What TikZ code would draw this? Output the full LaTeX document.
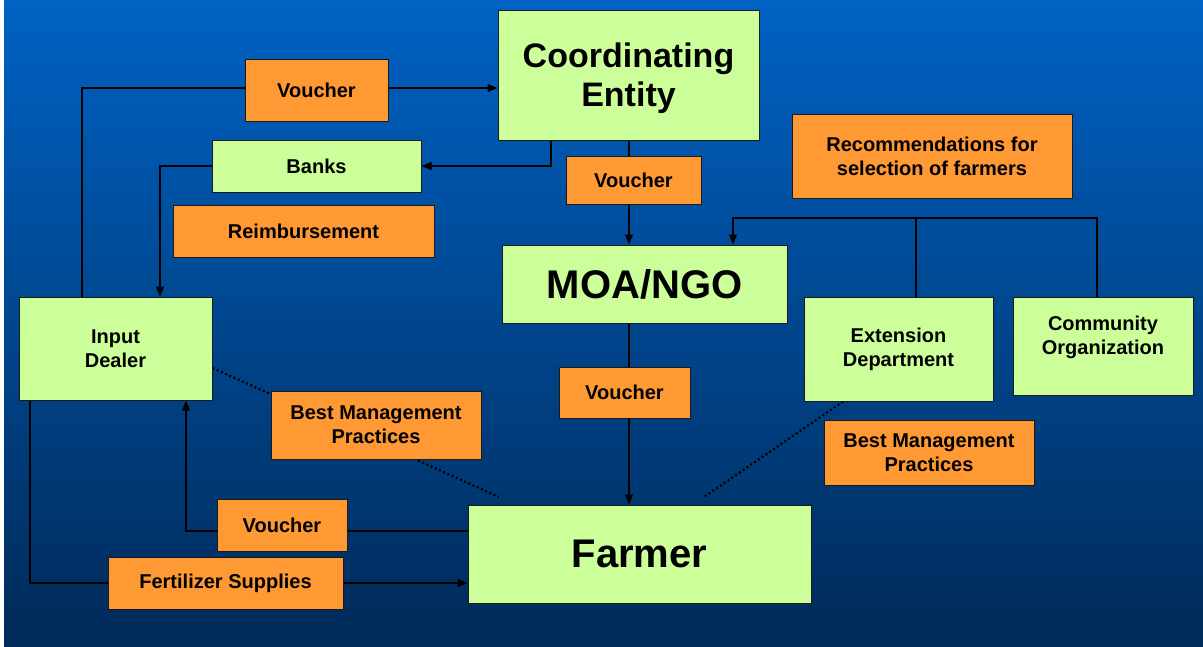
\documentclass[tikz,border=0pt]{standalone}
\usepackage{fontspec}
\setmainfont{Liberation Sans}
\usetikzlibrary{arrows.meta}
\pgfdeclarelayer{backdrop}
\pgfdeclarelayer{wires}
\pgfsetlayers{backdrop,wires,main}
\definecolor{bgtop}{RGB}{0,98,196}
\definecolor{bgbot}{RGB}{0,42,88}
\definecolor{leaf}{RGB}{204,255,153}
\definecolor{amber}{RGB}{255,153,51}
\definecolor{rim}{RGB}{26,26,26}
\tikzset{
  box/.style={rectangle, draw=rim, line width=1pt, inner sep=0pt, align=center,
    text=black, font=\bfseries\fontsize{20}{24}\selectfont},
  greenbox/.style={box, fill=leaf},
  orangebox/.style={box, fill=amber},
  bigtext/.style args={#1/#2}{font=\bfseries\fontsize{#1}{#2}\selectfont},
  wire/.style={draw=black, line width=1.2pt},
  arr/.style={wire, -{Triangle[length=10pt,width=8pt]}},
  dots/.style={draw=black, line width=2.2pt, dash pattern=on 2pt off 2.6pt},
}
\begin{document}
\begin{tikzpicture}[x=1pt,y=-1pt]
\useasboundingbox (0,0) rectangle (1203,646);
\begin{pgfonlayer}{backdrop}
  \fill[white] (0,0) rectangle (1203,646);
  \shade[top color=bgtop, bottom color=bgbot] (4,0) rectangle (1203,646);
\end{pgfonlayer}

% main actors
\node[greenbox, minimum width=261pt, minimum height=130pt, bigtext=34/39, text depth=-3pt] (ce) at (628.5,75) {Coordinating\\Entity};
\node[greenbox, minimum width=285pt, minimum height=78pt, bigtext=40/46] (moa) at (644.5,284) {MOA/NGO};
\node[greenbox, minimum width=343pt, minimum height=98pt, bigtext=40/46] (farmer) at (639.5,554) {Farmer};
\node[greenbox, minimum width=209pt, minimum height=52pt] (banks) at (316.5,166) {Banks};
\node[greenbox, minimum width=193pt, minimum height=103pt] (input) at (115.5,348.5) {Input\\Dealer};
\node[greenbox, minimum width=189pt, minimum height=104pt] (ext) at (898.5,349) {Extension\\Department};
\node[greenbox, minimum width=180pt, minimum height=98pt, text depth=22pt] (com) at (1103,346) {Community\\Organization};

% flow labels
\node[orangebox, minimum width=143pt, minimum height=62pt] (v1) at (316.5,90) {Voucher};
\node[orangebox, minimum width=261pt, minimum height=52pt] (reimb) at (303.5,231) {Reimbursement};
\node[orangebox, minimum width=135pt, minimum height=48pt] (v2) at (633.5,180) {Voucher};
\node[orangebox, minimum width=280pt, minimum height=84pt] (rec) at (932,156) {Recommendations for\\selection of farmers};
\node[orangebox, minimum width=131pt, minimum height=51pt] (v3) at (624.5,392.5) {Voucher};
\node[orangebox, minimum width=210pt, minimum height=68pt] (bmp1) at (376,425) {Best Management\\Practices};
\node[orangebox, minimum width=210pt, minimum height=65pt] (bmp2) at (929,452.5) {Best Management\\Practices};
\node[orangebox, minimum width=130pt, minimum height=52pt] (v4) at (282,525) {Voucher};
\node[orangebox, minimum width=235pt, minimum height=52pt] (fert) at (225.5,583) {Fertilizer Supplies};

% junctions and loose ends
\coordinate (join) at (733,218);
\coordinate (tap) at (916,218);
\coordinate (bmpA) at (499,497);
\coordinate (bmpB) at (704,497);

\begin{pgfonlayer}{wires}
  \draw[arr] (input.north -| 82,0) |- (ce.west |- 0,88);
  \draw[arr] (ce.south -| 551,0) |- (banks.east);
  \draw[arr] (banks.west) -| (input.north -| 160,0);
  \draw[arr] (ce.south -| 629,0) -- (moa.north -| 629,0);
  \draw[arr] (com.north -| 1097,0) |- (join) -- (moa.north -| join);
  \draw[wire] (ext.north -| tap) -- (tap);
  \draw[arr] (moa.south -| 629,0) -- (farmer.north -| 629,0);
  \draw[arr] (farmer.west |- 0,531) -| (input.south -| 186,0);
  \draw[arr] (input.south -| 30,0) |- (farmer.west |- 0,583);
  \draw[dots] (input.east |- 0,368) -- (bmpA);
  \draw[dots] (ext.south -| 843,0) -- (bmpB);
\end{pgfonlayer}
\end{tikzpicture}
\end{document}
